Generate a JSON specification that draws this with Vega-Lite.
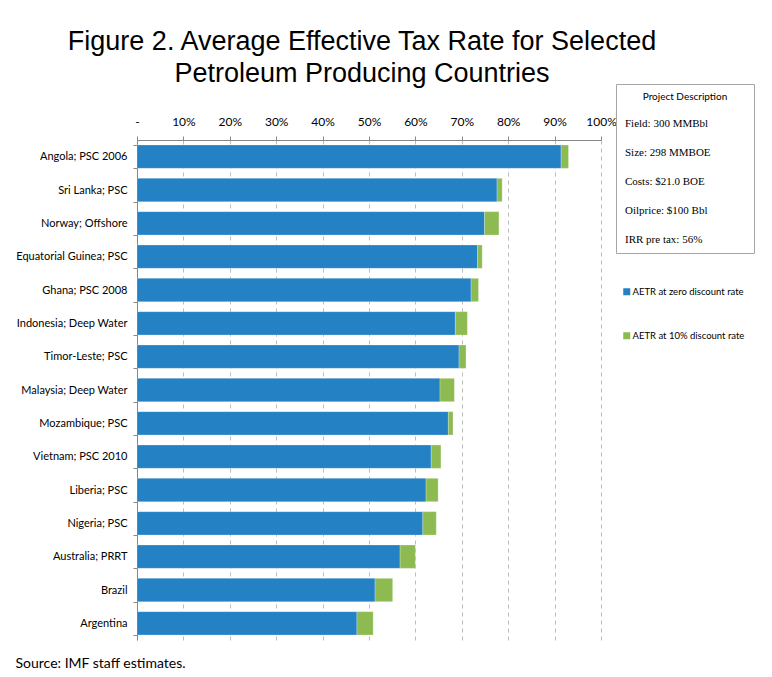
{
  "$schema": "https://vega.github.io/schema/vega-lite/v6.json",
  "autosize": "none",
  "width": 464,
  "height": 500,
  "padding": {"left": 137, "top": 140, "right": 171, "bottom": 37},
  "background": "white",
  "title": {
    "text": ["Figure 2. Average Effective Tax Rate for Selected", "Petroleum Producing Countries"],
    "font": "'Liberation Sans', Arial, sans-serif",
    "fontSize": 27,
    "fontWeight": "normal",
    "color": "#000000",
    "anchor": "middle",
    "dx": -7,
    "lineHeight": 32,
    "offset": -4
  },
  "datasets": {
    "aetr": [
      {"country": "Angola; PSC 2006", "series": "AETR at zero discount rate", "rank": 1, "value": 0.914},
      {"country": "Angola; PSC 2006", "series": "AETR at 10% discount rate", "rank": 2, "value": 0.016},
      {"country": "Sri Lanka; PSC", "series": "AETR at zero discount rate", "rank": 1, "value": 0.776},
      {"country": "Sri Lanka; PSC", "series": "AETR at 10% discount rate", "rank": 2, "value": 0.011},
      {"country": "Norway; Offshore", "series": "AETR at zero discount rate", "rank": 1, "value": 0.749},
      {"country": "Norway; Offshore", "series": "AETR at 10% discount rate", "rank": 2, "value": 0.031},
      {"country": "Equatorial Guinea; PSC", "series": "AETR at zero discount rate", "rank": 1, "value": 0.734},
      {"country": "Equatorial Guinea; PSC", "series": "AETR at 10% discount rate", "rank": 2, "value": 0.010},
      {"country": "Ghana; PSC 2008", "series": "AETR at zero discount rate", "rank": 1, "value": 0.720},
      {"country": "Ghana; PSC 2008", "series": "AETR at 10% discount rate", "rank": 2, "value": 0.016},
      {"country": "Indonesia; Deep Water", "series": "AETR at zero discount rate", "rank": 1, "value": 0.686},
      {"country": "Indonesia; Deep Water", "series": "AETR at 10% discount rate", "rank": 2, "value": 0.026},
      {"country": "Timor-Leste; PSC", "series": "AETR at zero discount rate", "rank": 1, "value": 0.694},
      {"country": "Timor-Leste; PSC", "series": "AETR at 10% discount rate", "rank": 2, "value": 0.015},
      {"country": "Malaysia; Deep Water", "series": "AETR at zero discount rate", "rank": 1, "value": 0.653},
      {"country": "Malaysia; Deep Water", "series": "AETR at 10% discount rate", "rank": 2, "value": 0.031},
      {"country": "Mozambique; PSC", "series": "AETR at zero discount rate", "rank": 1, "value": 0.671},
      {"country": "Mozambique; PSC", "series": "AETR at 10% discount rate", "rank": 2, "value": 0.010},
      {"country": "Vietnam; PSC 2010", "series": "AETR at zero discount rate", "rank": 1, "value": 0.634},
      {"country": "Vietnam; PSC 2010", "series": "AETR at 10% discount rate", "rank": 2, "value": 0.021},
      {"country": "Liberia; PSC", "series": "AETR at zero discount rate", "rank": 1, "value": 0.623},
      {"country": "Liberia; PSC", "series": "AETR at 10% discount rate", "rank": 2, "value": 0.026},
      {"country": "Nigeria; PSC", "series": "AETR at zero discount rate", "rank": 1, "value": 0.616},
      {"country": "Nigeria; PSC", "series": "AETR at 10% discount rate", "rank": 2, "value": 0.029},
      {"country": "Australia; PRRT", "series": "AETR at zero discount rate", "rank": 1, "value": 0.567},
      {"country": "Australia; PRRT", "series": "AETR at 10% discount rate", "rank": 2, "value": 0.033},
      {"country": "Brazil", "series": "AETR at zero discount rate", "rank": 1, "value": 0.513},
      {"country": "Brazil", "series": "AETR at 10% discount rate", "rank": 2, "value": 0.038},
      {"country": "Argentina", "series": "AETR at zero discount rate", "rank": 1, "value": 0.474},
      {"country": "Argentina", "series": "AETR at 10% discount rate", "rank": 2, "value": 0.035}
    ],
    "project": [
      {"line": "Field: 300 MMBbl"},
      {"line": "Size: 298 MMBOE"},
      {"line": "Costs: $21.0 BOE"},
      {"line": "Oilprice:  $100 Bbl"},
      {"line": "IRR pre tax: 56%"}
    ]
  },
  "layer": [
    {
      "data": {"name": "aetr"},
      "mark": {"type": "bar", "stroke": "#ffffff", "strokeOpacity": 0.35, "strokeWidth": 0.7},
      "encoding": {
        "y": {
          "field": "country",
          "type": "nominal",
          "sort": null,
          "scale": {"paddingInner": 0.3, "paddingOuter": 0.15},
          "axis": {
            "title": null,
            "tickBand": "extent",
            "tickSize": 4,
            "tickColor": "#868686",
            "domainColor": "#868686",
            "labelPadding": 6,
            "labelFont": "Lato, sans-serif",
            "labelFontSize": 11,
            "labelColor": "#000000",
            "labelLimit": 200
          }
        },
        "x": {
          "field": "value",
          "type": "quantitative",
          "stack": "zero",
          "scale": {"domain": [0, 1], "nice": false},
          "axis": {
            "orient": "top",
            "title": null,
            "values": [0, 0.1, 0.2, 0.3, 0.4, 0.5, 0.6, 0.7, 0.8, 0.9, 1],
            "labelExpr": "datum.value === 0 ? '-' : format(datum.value, '.0%')",
            "tickSize": 4,
            "tickColor": "#868686",
            "domainColor": "#868686",
            "labelPadding": 8,
            "labelFont": "Lato, sans-serif",
            "labelFontSize": 12,
            "labelColor": "#000000",
            "labelFlush": false,
            "grid": true,
            "gridColor": "#bdbdbd",
            "gridDash": [4, 4],
            "gridWidth": 1
          }
        },
        "color": {
          "field": "series",
          "type": "nominal",
          "scale": {
            "domain": ["AETR at zero discount rate", "AETR at 10% discount rate"],
            "range": ["#2381c4", "#8dbb51"]
          },
          "legend": {
            "title": null,
            "orient": "none",
            "legendX": 485,
            "legendY": 147,
            "symbolType": "square",
            "symbolSize": 49,
            "symbolStrokeWidth": 0,
            "symbolOpacity": 1,
            "labelFont": "Lato, sans-serif",
            "labelFontSize": 9.5,
            "labelColor": "#000000",
            "labelOffset": 1,
            "rowPadding": 33,
            "padding": 0,
            "labelLimit": 200
          }
        },
        "order": {"field": "rank", "type": "quantitative"}
      }
    },
    {
      "data": {"name": "project"},
      "mark": {"type": "point", "opacity": 0},
      "encoding": {
        "x": {
          "datum": 0,
          "type": "quantitative",
          "axis": {
            "orient": "bottom",
            "title": "Source: IMF staff estimates.",
            "titleFont": "Lato, sans-serif",
            "titleFontSize": 14,
            "titleFontWeight": "normal",
            "titleColor": "#000000",
            "titleX": -122,
            "titleY": 27,
            "titleAlign": "left",
            "titleBaseline": "alphabetic",
            "labels": false,
            "ticks": false,
            "domain": false,
            "grid": false
          }
        },
        "shape": {
          "field": "line",
          "type": "nominal",
          "scale": {
            "domain": ["Field: 300 MMBbl", "Size: 298 MMBOE", "Costs: $21.0 BOE", "Oilprice:  $100 Bbl", "IRR pre tax: 56%"]
          },
          "legend": {
            "title": "Project Description",
            "orient": "none",
            "legendX": 479,
            "legendY": -56,
            "titleFont": "Lato, sans-serif",
            "titleFontSize": 10,
            "titleFontWeight": "normal",
            "titleColor": "#000000",
            "titleAnchor": "middle",
            "titlePadding": 16,
            "labelFont": "'Liberation Serif', 'Times New Roman', serif",
            "labelFontSize": 11,
            "labelColor": "#000000",
            "labelOffset": -126,
            "symbolType": "square",
            "symbolSize": 1,
            "symbolOffset": 116,
            "symbolOpacity": 0,
            "symbolFillColor": "#ffffff",
            "symbolStrokeWidth": 0,
            "rowPadding": 17,
            "padding": 8,
            "strokeColor": "#a6a6a6",
            "fillColor": "#ffffff",
            "labelLimit": 300
          }
        }
      }
    }
  ],
  "resolve": {"axis": {"x": "independent"}},
  "config": {
    "view": {"stroke": null}
  }
}
